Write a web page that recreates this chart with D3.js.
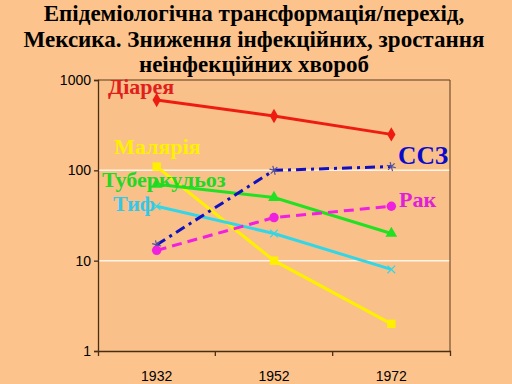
<!DOCTYPE html>
<html><head><meta charset="utf-8">
<script src="https://cdn.jsdelivr.net/npm/d3@7"></script>
<style>html,body{margin:0;padding:0;background:#FCC48C;}svg{display:block;}</style>
</head><body>
<svg id="c" width="512" height="384"></svg>
<script>
const titleLines = ["Епідеміологічна трансформація/перехід,", "Мексика. Зниження інфекційних, зростання", "неінфекційних хвороб"];
const years = ["1932", "1952", "1972"];
const yTicks = [1, 10, 100, 1000];
const diarrhea = [600, 400, 250];
const malaria = [110, 10, 2];
const tuberculosis = [70, 50, 20];
const typhoid = [40, 20, 8];
const cvd = [15, 100, 110];
const cancer = [13, 30, 40];
const seriesNames = ["Діарея", "Малярія", "Туберкульоз", "Тиф", "ССЗ", "Рак"];

const SERIF = '"Liberation Serif", "Times New Roman", serif';
const SANS = '"Liberation Sans", Arial, sans-serif';

const svg = d3.select("#c");
const m = {l: 98, r: 450, t: 80, b: 351};
svg.append("rect").attr("width",512).attr("height",384).attr("fill","#FCC48C");
svg.append("rect").attr("x",m.l).attr("y",m.t).attr("width",m.r-m.l).attr("height",m.b-m.t).attr("fill","#FAC08A");

const x = d3.scaleBand().domain(years).range([m.l, m.r]);
const y = d3.scaleLog().domain([1, 1000]).range([m.b, m.t]);
const cx = d => x(d) + x.bandwidth()/2;

svg.append("g").selectAll("line").data([10,100]).join("line")
  .attr("x1", m.l).attr("x2", m.r).attr("y1", d=>y(d)).attr("y2", d=>y(d))
  .attr("stroke","#FFF4E8").attr("stroke-width",1.5);
svg.append("path").attr("d",`M${m.l},${m.t}H${m.r}V${m.b}`).attr("fill","none").attr("stroke","#5A3A1A").attr("stroke-width",1);

const yAxis = svg.append("g").attr("transform",`translate(${m.l},0)`)
  .call(d3.axisLeft(y).tickValues(yTicks).tickFormat(d3.format("d")).tickSize(4).tickPadding(3));
const xAxis = svg.append("g").attr("transform",`translate(0,${m.b})`)
  .call(d3.axisBottom(x).tickSize(5).tickPadding(15).tickSizeOuter(5));
[yAxis, xAxis].forEach(a => {
  a.attr("font-family", null).attr("font-size", null);
  a.selectAll("path,line").attr("stroke","#4A2E14").attr("stroke-width",1.3);
  a.selectAll("text").style("font-family",SANS).style("font-size","14px").attr("fill","#000");
});
xAxis.selectAll(".tick line").remove();
xAxis.selectAll("line.edge").data(x.domain().slice(1)).join("line").attr("class","edge")
  .attr("x1", d=>x(d)).attr("x2", d=>x(d)).attr("y1",0).attr("y2",5).attr("stroke","#4A2E14").attr("stroke-width",1.3);

const series = [
  {vals: diarrhea, color:"#EE1C10", marker:"diamond", dash:null},
  {vals: malaria, color:"#FFF000", marker:"square", dash:null},
  {vals: tuberculosis, color:"#22E022", marker:"triangle", dash:null},
  {vals: typhoid, color:"#33D6E6", marker:"x", dash:null},
  {vals: cvd, color:"#1010C0", marker:"star", dash:"10,5,3,5"},
  {vals: cancer, color:"#F020E0", marker:"circle", dash:"10,6"}
];
const line = d3.line().x((d,i)=>cx(years[i])).y(d=>y(d));
const g = svg.append("g");
series.forEach(s => {
  g.append("path").attr("d", line(s.vals)).attr("fill","none").attr("stroke", s.color)
    .attr("stroke-width", 3).attr("stroke-dasharray", s.dash);
});
series.forEach(s => {
  s.vals.forEach((v,i) => {
    const px = cx(years[i]), py = y(v);
    if (s.marker === "diamond") g.append("path").attr("d", d3.symbol(d3.symbolDiamond, 60)()).attr("transform",`translate(${px},${py})`).attr("fill", s.color);
    else if (s.marker === "square") g.append("path").attr("d", d3.symbol(d3.symbolSquare, 70)()).attr("transform",`translate(${px},${py})`).attr("fill", s.color);
    else if (s.marker === "triangle") g.append("path").attr("d", d3.symbol(d3.symbolTriangle, 60)()).attr("transform",`translate(${px},${py})`).attr("fill", s.color);
    else if (s.marker === "circle") g.append("path").attr("d", d3.symbol(d3.symbolCircle, 70)()).attr("transform",`translate(${px},${py})`).attr("fill", s.color);
    else if (s.marker === "x") g.append("path").attr("d", d3.symbol(d3.symbolX, 40)()).attr("transform",`translate(${px},${py})`).attr("fill","none").attr("stroke", s.color).attr("stroke-width",1.2);
    else if (s.marker === "star") g.append("path").attr("d", d3.symbol(d3.symbolAsterisk, 60)()).attr("transform",`translate(${px},${py}) rotate(45)`).attr("fill","none").attr("stroke", "#5050A0").attr("stroke-width",1.2);
  });
});

const labels = [
  {t: seriesNames[0], x:108, y:94, c:"#E0201A", s:22},
  {t: seriesNames[1], x:114, y:154, c:"#FFF000", s:22},
  {t: seriesNames[2], x:102, y:187, c:"#22D822", s:22},
  {t: seriesNames[3], x:113, y:211, c:"#33C8E8", s:22},
  {t: seriesNames[4], x:398, y:164, c:"#0A0ACC", s:25.5},
  {t: seriesNames[5], x:399, y:207, c:"#E020D8", s:22}
];
svg.append("g").selectAll("text").data(labels).join("text")
  .style("font-family",SERIF).style("font-weight","bold").style("font-size", d=>d.s+"px")
  .attr("x", d=>d.x).attr("y", d=>d.y).attr("fill", d=>d.c).text(d=>d.t);

svg.append("g").selectAll("text").data(titleLines).join("text")
  .style("font-family",SERIF).style("font-weight","bold").style("font-size","23px")
  .attr("x",254).attr("y",(d,i)=>21+i*25.5).attr("text-anchor","middle")
  .attr("fill","#000").text(d=>d);
</script>
</body></html>
